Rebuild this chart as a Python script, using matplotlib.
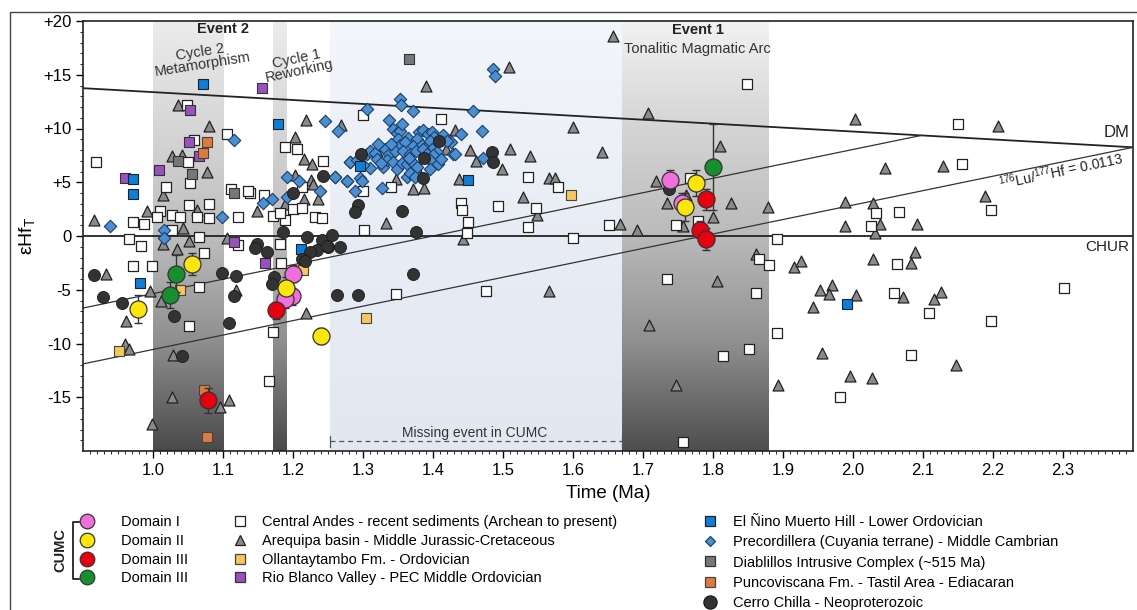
import numpy as np
import matplotlib
matplotlib.use("Agg")
import matplotlib.pyplot as plt
from matplotlib.colors import LinearSegmentedColormap
from matplotlib.lines import Line2D
from matplotlib.patches import Rectangle

plt.rcParams['font.family'] = ['Liberation Sans', 'DejaVu Sans']
plt.rcParams['mathtext.default'] = 'regular'

# ---------------- data ----------------
# CUMC domains (time Ga, eHf, error)
dom1_t = [1.200, 1.199, 1.188, 1.738, 1.755]
dom1_e = [-3.5, -5.6, -5.9, 5.2, 3.1]
dom1_err = [0.8, 0.8, 0.8, 0.9, 0.9]

dom2_t = [0.978, 1.055, 1.190, 1.240, 1.775, 1.760]
dom2_e = [-6.8, -2.6, -4.8, -9.3, 4.9, 2.7]
dom2_err = [1.3, 1.0, 1.0, 0.7, 1.2, 1.3]

dom3r_t = [1.078, 1.176, 1.790, 1.782, 1.790]
dom3r_e = [-15.3, -6.9, 3.4, 0.6, -0.3]
dom3r_err = [1.2, 0.8, 1.0, 0.8, 1.0]

dom3g_t = [1.033, 1.024, 1.800]
dom3g_e = [-3.5, -5.5, 6.4]
dom3g_err = [1.7, 1.2, 4.0]

# Central Andes - recent sediments
ca_t = [0.919, 1.049, 1.059, 1.105, 1.189, 1.205, 1.243, 1.300, 1.050, 1.053, 1.019, 1.112, 1.139, 1.158,
        1.213, 1.051, 1.080, 1.010, 0.972, 0.987, 1.006, 1.027, 1.039, 1.063, 1.080, 1.121, 1.172, 1.189,
        1.182, 1.200, 1.213, 1.232, 1.242, 1.027, 1.066, 0.965, 0.983, 1.122, 1.182, 1.301, 1.073, 0.972,
        0.999, 1.065, 1.183, 1.052, 1.172, 1.165, 1.411, 1.376, 1.340, 1.536, 1.440, 1.441, 1.493, 1.547,
        1.450, 1.449, 1.536, 1.578, 1.651, 1.600, 1.747, 1.767, 1.778, 1.848, 1.347, 1.476, 1.734, 1.814,
        1.757, 1.852, 1.891, 1.866, 1.880, 1.862, 1.891, 2.150, 2.156, 2.066, 2.033, 2.025, 2.197, 2.063,
        2.059, 2.108, 2.083, 1.982, 2.197, 2.302, 1.135, 1.300]
ca_e = [6.9, 12.2, 8.9, 9.5, 8.3, 8.1, 7.0, 11.3, 6.9, 4.9, 4.6, 4.4, 4.0, 3.8,
        4.6, 2.9, 3.0, 2.3, 1.3, 1.1, 1.8, 2.0, 1.8, 1.8, 1.7, 1.8, 1.9, 1.5,
        2.1, 2.5, 2.6, 1.8, 1.7, 0.6, -0.1, -0.3, -0.9, -0.8, -0.7, 0.6, -1.6, -2.8,
        -2.8, -4.7, -2.5, -8.4, -8.9, -13.5, 10.9, 6.4, 4.6, 5.5, 3.1, 2.4, 2.8, 2.6,
        1.3, 0.3, 0.8, 4.6, 1.0, -0.2, 1.0, 5.4, 1.4, 14.1, -5.4, -5.1, -4.0, -11.2,
        -19.2, -10.5, -0.3, -2.1, -2.7, -5.3, -9.0, 10.4, 6.7, 2.2, 2.1, 0.9, 2.4, -2.6,
        -5.3, -7.2, -11.1, -15.0, -7.9, -4.8, 4.2, 4.2]

# Arequipa basin - Middle Jurassic-Cretaceous
ar_t = [1.036, 1.080, 1.219, 1.268, 1.203, 1.027, 1.041, 1.215, 1.227, 1.077, 1.203, 1.225, 1.229, 1.015,
        1.215, 1.189, 1.149, 0.992, 0.915, 1.063, 1.043, 1.015, 1.034, 1.051, 1.106, 1.320, 0.933, 0.996,
        1.012, 1.118, 1.219, 0.962, 0.960, 0.965, 0.998, 1.029, 1.027, 1.096, 1.108, 1.390, 1.431, 1.453,
        1.510, 1.539, 1.461, 1.499, 1.418, 1.347, 1.371, 1.387, 1.437, 1.566, 1.574, 1.528, 1.549, 1.333,
        1.443, 1.657, 1.508, 1.707, 1.600, 1.810, 1.642, 1.667, 1.691, 1.718, 1.734, 1.762, 1.825, 1.800,
        1.878, 1.757, 1.862, 1.915, 1.805, 1.708, 1.566, 1.747, 2.003, 2.207, 2.046, 2.128, 2.189, 1.989,
        2.029, 1.989, 2.038, 2.092, 2.032, 1.925, 2.029, 2.089, 2.083, 1.953, 1.970, 1.966, 2.004, 1.943,
        2.071, 2.116, 2.126, 1.956, 1.995, 2.027, 2.147, 1.893, 1.236]
ar_e = [12.2, 10.2, 10.8, 10.3, 9.2, 7.4, 7.5, 7.2, 6.7, 6.0, 5.7, 5.2, 4.8, 3.8,
        3.4, 3.0, 2.3, 2.3, 1.5, 2.4, 0.7, -0.7, -1.2, -0.5, -0.2, 7.9, -3.5, -5.1,
        -6.0, -5.0, -7.2, -7.9, -10.0, -10.5, -17.5, -11.1, -15.0, -15.9, -15.3, 14.0, 9.9, 8.0,
        8.1, 7.4, 7.0, 6.2, 8.1, 5.3, 4.4, 4.5, 5.3, 5.4, 5.4, 3.6, 2.0, 1.2,
        -0.3, 18.6, 15.7, 11.4, 10.1, 8.4, 7.8, 1.1, 0.6, 5.1, 3.1, 3.8, 3.1, 1.8,
        2.7, 0.9, -1.7, -2.9, -4.2, -8.3, -5.1, -13.9, 10.9, 10.2, 6.3, 6.5, 3.7, 3.2,
        3.1, 0.9, 1.1, 1.1, 0.3, -2.3, -2.1, -1.5, -2.5, -5.0, -4.6, -5.4, -5.5, -6.6,
        -5.7, -5.9, -5.2, -10.9, -13.0, -13.2, -12.0, -13.9, 3.4]

# Precordillera (Cuyania terrane) - Middle Cambrian
pc_t = [0.939, 1.099, 1.115, 1.157, 1.170, 1.192, 1.191, 1.208, 1.239, 1.260, 1.277, 1.289, 1.282, 1.246,
        1.265, 1.305, 1.016, 1.016, 1.296, 1.353, 1.354, 1.372, 1.457, 1.337, 1.343, 1.348, 1.353, 1.380,
        1.386, 1.393, 1.398, 1.414, 1.440, 1.470, 1.350, 1.364, 1.377, 1.401, 1.426, 1.353, 1.360, 1.371,
        1.384, 1.391, 1.396, 1.398, 1.405, 1.420, 1.306, 1.310, 1.317, 1.332, 1.337, 1.346, 1.357, 1.367,
        1.376, 1.386, 1.391, 1.400, 1.429, 1.282, 1.292, 1.310, 1.329, 1.334, 1.343, 1.349, 1.356, 1.363,
        1.370, 1.377, 1.396, 1.407, 1.471, 1.260, 1.277, 1.299, 1.363, 1.367, 1.374, 1.327, 1.486, 1.488,
        1.431, 1.320, 1.325, 1.340, 1.365, 1.412, 1.395, 1.322, 1.300, 1.355]
pc_e = [0.9, 1.8, 8.9, 3.1, 3.4, 3.6, 5.5, 5.1, 4.2, 5.5, 5.1, 4.2, 6.9, 10.7,
        9.8, 11.8, 0.6, -0.2, 5.4, 12.7, 12.2, 11.6, 11.6, 10.8, 10.0, 9.6, 9.8, 9.7,
        9.9, 9.5, 9.7, 9.4, 9.5, 9.8, 9.0, 9.1, 9.0, 9.2, 8.7, 8.5, 8.7, 8.4,
        8.5, 8.4, 8.8, 8.1, 7.8, 8.8, 7.6, 7.9, 7.7, 8.1, 7.6, 7.9, 7.9, 7.6,
        7.9, 8.1, 7.6, 7.5, 7.6, 6.9, 7.1, 6.3, 6.4, 7.1, 6.9, 6.2, 6.8, 6.7,
        6.9, 6.4, 7.1, 6.7, 7.3, 5.5, 5.1, 5.1, 5.5, 5.9, 5.5, 4.5, 15.5, 14.9,
        7.6, 7.2, 6.8, 8.6, 7.3, 7.2, 6.2, 8.6, 6.6, 10.4]

# Cerro Chilla - Neoproterozoic
cc_t = [0.915, 0.928, 0.955, 1.030, 1.042, 1.099, 1.118, 1.115, 1.108, 1.173, 1.170, 1.263, 1.293, 1.185,
        1.149, 1.146, 1.163, 1.220, 1.242, 1.256, 1.267, 1.250, 1.234, 1.224, 1.213, 1.217, 1.200, 1.243,
        1.297, 1.293, 1.288, 1.356, 1.376, 1.371, 1.387, 1.386, 1.408, 1.484, 1.485, 1.249, 1.737]
cc_e = [-3.6, -5.7, -6.2, -7.4, -11.2, -3.4, -3.7, -5.6, -8.1, -3.8, -4.5, -5.5, -5.5, 0.4,
        -0.7, -1.1, -1.5, -0.1, -0.4, 0.1, -1.0, -1.0, -1.3, -1.5, -2.1, -2.3, 4.0, 5.6,
        7.6, 2.9, 2.2, 2.3, 0.4, -3.5, 7.3, 5.4, 8.8, 7.8, 6.9, -0.9, 4.4]

# Ollantaytambo Fm. - Ordovician
ol_t = [0.952, 1.039, 1.214, 1.304, 1.597]
ol_e = [-10.7, -5.0, -3.2, -7.6, 3.8]

# Rio Blanco Valley - PEC Middle Ordovician
rb_t = [1.156, 1.053, 0.960, 1.008, 1.051, 1.066, 1.115, 1.160]
rb_e = [13.8, 11.7, 5.4, 6.1, 8.7, 7.4, -0.6, -2.5]

# El Nino Muerto Hill - Lower Ordovician
en_t = [1.071, 1.179, 0.972, 0.972, 1.296, 0.981, 1.212, 1.450, 1.991]
en_e = [14.1, 10.4, 5.3, 3.9, 6.5, -4.4, -1.2, 5.2, -6.3]

# Diablillos Intrusive Complex
di_t = [1.365, 1.036, 1.056, 1.116]
di_e = [16.5, 7.0, 5.8, 4.0]

# Puncoviscana Fm. - Tastil Area
pu_t = [1.077, 1.072, 1.073, 1.077]
pu_e = [8.7, 7.7, -14.3, -18.7]

# reference lines
dm_t = [0.9, 2.4]
dm_e = [13.75, 8.25]
luhf1_t = [0.9, 2.097]
luhf1_e = [-6.7, 9.35]
luhf2_t = [0.9, 2.4]
luhf2_e = [-11.9, 8.25]

xticks = [1.0, 1.1, 1.2, 1.3, 1.4, 1.5, 1.6, 1.7, 1.8, 1.9, 2.0, 2.1, 2.2, 2.3]
yticks = [-15, -10, -5, 0, 5, 10, 15, 20]
ytick_labels = ['-15', '-10', '-5', '0', '+5', '+10', '+15', '+20']

# ---------------- figure ----------------
W, H = 1137, 610
fig = plt.figure(figsize=(W / 100, H / 100), dpi=100)
ax = fig.add_axes([83 / W, 1 - 451 / H, 1050 / W, 430 / H])

def band(x0, x1, colors):
    cmap = LinearSegmentedColormap.from_list('b', colors)
    grad = np.linspace(0, 1, 256).reshape(-1, 1)
    ax.imshow(grad, extent=(x0, x1, -20, 20), origin='lower', cmap=cmap,
              aspect='auto', zorder=0, interpolation='bilinear')

gray_stops = ['#4a4a4a', '#8e8e8e', '#bdbdbd', '#d6d6d6', '#ececec']
band(1.0, 1.1, gray_stops)
band(1.171, 1.19, gray_stops)
band(1.253, 1.67, ['#e2e8f1', '#e8edf5', '#f3f6fa'])
band(1.67, 1.88, ['#4e4e4e', '#8f8f8f', '#bababa', '#d4d4d4', '#f2f2f2'])

# lines
ax.plot(dm_t, dm_e, color='#222222', lw=1.3, zorder=1)
ax.plot(luhf1_t, luhf1_e, color='#333333', lw=0.9, zorder=1)
ax.plot(luhf2_t, luhf2_e, color='#333333', lw=0.9, zorder=1)
ax.axhline(0, color='#222222', lw=1.3, zorder=1)

ms_sq = 60
ax.scatter(ar_t, ar_e, marker='^', s=62, c='#8a8a8a', edgecolors='#222222', linewidths=0.9, zorder=2)
ax.scatter(ca_t, ca_e, marker='s', s=ms_sq, c='white', edgecolors='#222222', linewidths=0.9, zorder=3)
ax.scatter(pc_t, pc_e, marker='D', s=40, c='#4a8fd3', edgecolors='#1b3f66', linewidths=0.8, zorder=4)
ax.scatter(ol_t, ol_e, marker='s', s=ms_sq, c='#f4c85a', edgecolors='#444444', linewidths=0.8, zorder=4)
ax.scatter(rb_t, rb_e, marker='s', s=ms_sq, c='#9a50bf', edgecolors='#333333', linewidths=0.8, zorder=4)
ax.scatter(en_t, en_e, marker='s', s=ms_sq, c='#0a7fdc', edgecolors='#222222', linewidths=0.8, zorder=4)
ax.scatter(di_t, di_e, marker='s', s=ms_sq, c='#777777', edgecolors='#333333', linewidths=0.8, zorder=4)
ax.scatter(pu_t, pu_e, marker='s', s=ms_sq, c='#df7a3c', edgecolors='#444444', linewidths=0.8, zorder=4)
ax.scatter(cc_t, cc_e, marker='o', s=75, c='#333333', edgecolors='#1a1a1a', linewidths=0.6, zorder=5)

for t, e, er, col in [(dom1_t, dom1_e, dom1_err, '#ef6fdc'), (dom2_t, dom2_e, dom2_err, '#fbe60a'),
                      (dom3r_t, dom3r_e, dom3r_err, '#e8000f'), (dom3g_t, dom3g_e, dom3g_err, '#16902f')]:
    ax.errorbar(t, e, yerr=er, fmt='none', ecolor='#333333', elinewidth=1.0, capsize=3, zorder=6)
    ax.scatter(t, e, marker='o', s=150, c=col, edgecolors='#333333', linewidths=0.9, zorder=7)

# axes formatting
ax.set_xlim(0.9, 2.4)
ax.set_ylim(-20, 20)
ax.set_xticks(xticks)
ax.set_xticklabels([f'{v:.1f}' for v in xticks], fontsize=12)
ax.set_xticks(np.arange(0.91, 2.4, 0.01), minor=True)
ax.set_yticks(yticks)
ax.set_yticklabels(ytick_labels, fontsize=12)
ax.set_yticks(np.arange(-19, 20, 1), minor=True)
ax.tick_params(which='major', direction='out', length=5, width=1)
ax.tick_params(which='minor', direction='out', length=2.5, width=0.6)
for sp in ax.spines.values():
    sp.set_linewidth(1.2)
    sp.set_color('#222222')
ax.set_xlabel('Time (Ma)', fontsize=13.5, labelpad=5)
ax.set_ylabel('εHf$_{T}$', fontsize=14, labelpad=4)

# annotations
ax.text(1.1, 19.3, 'Event 2', ha='center', va='center', fontsize=10.5, fontweight='bold', color='#222222')
ax.text(1.069, 16.5, 'Cycle 2\nMetamorphism', ha='center', va='center', fontsize=10.5, rotation=9,
        linespacing=0.85, color='#333333')
ax.text(1.207, 15.9, 'Cycle 1\nReworking', ha='center', va='center', fontsize=10.5, rotation=12,
        linespacing=0.85, color='#333333')
ax.text(1.778, 19.2, 'Event 1', ha='center', va='center', fontsize=10.5, fontweight='bold', color='#222222')
ax.text(1.777, 17.4, 'Tonalitic Magmatic Arc', ha='center', va='center', fontsize=10.5, color='#333333')
ax.text(2.395, 8.9, 'DM', ha='right', va='bottom', fontsize=12, color='#222222')
ax.text(2.395, -0.4, 'CHUR', ha='right', va='top', fontsize=11, color='#222222')
ax.text(2.297, 6.1, '$^{176}$Lu/$^{177}$Hf = 0.0113', ha='center', va='center', fontsize=10,
        rotation=12, color='#222222')
ax.text(1.46, -18.3, 'Missing event in CUMC', ha='center', va='center', fontsize=10, color='#333333')
ax.plot([1.253, 1.67], [-19.1, -19.1], color='#555555', lw=0.9, ls=(0, (4, 3)), zorder=1)
ax.plot([1.253, 1.253], [-19.6, -18.6], color='#555555', lw=0.9, zorder=1)
ax.plot([1.67, 1.67], [-19.6, -18.6], color='#555555', lw=0.9, zorder=1)

# legends
def h(marker, fc, ec, ms):
    return Line2D([], [], marker=marker, ls='', mfc=fc, mec=ec, ms=ms, mew=0.9)

leg_fs = 10.5
l1 = fig.legend([h('o', '#ef6fdc', '#333', 10.5), h('o', '#fbe60a', '#333', 10.5),
                 h('o', '#e8000f', '#333', 10.5), h('o', '#16902f', '#333', 10.5)],
                ['Domain I', 'Domain II', 'Domain III', 'Domain III'],
                loc='upper left', bbox_to_anchor=(80 / W, 1 - 515 / H), frameon=False, fontsize=leg_fs,
                labelspacing=0.33, handlelength=1.0, handletextpad=1.8, borderpad=0, borderaxespad=0)
l2 = fig.legend([h('s', 'white', '#222', 6.5), h('^', '#8a8a8a', '#222', 7),
                 h('s', '#f4c85a', '#444', 6.5), h('s', '#9a50bf', '#333', 6.5)],
                ['Central Andes - recent sediments (Archean to present)', 'Arequipa basin - Middle Jurassic-Cretaceous',
                 'Ollantaytambo Fm. - Ordovician', 'Rio Blanco Valley - PEC Middle Ordovician'],
                loc='upper left', bbox_to_anchor=(233 / W, 1 - 515 / H), frameon=False, fontsize=leg_fs,
                labelspacing=0.33, handlelength=1.0, handletextpad=1.0, borderpad=0, borderaxespad=0)
l3 = fig.legend([h('s', '#0a7fdc', '#222', 6.5), h('D', '#4a8fd3', '#1b3f66', 5.5),
                 h('s', '#777777', '#333', 6.5), h('s', '#df7a3c', '#444', 6.5), h('o', '#333333', '#1a1a1a', 9.5)],
                ['El Ñino Muerto Hill - Lower Ordovician', 'Precordillera (Cuyania terrane) - Middle Cambrian',
                 'Diablillos Intrusive Complex (~515 Ma)', 'Puncoviscana Fm. - Tastil Area - Ediacaran',
                 'Cerro Chilla - Neoproterozoic'],
                loc='upper left', bbox_to_anchor=(703 / W, 1 - 515 / H), frameon=False, fontsize=leg_fs,
                labelspacing=0.43, handlelength=1.0, handletextpad=1.05, borderpad=0, borderaxespad=0)

# CUMC bracket
fig.add_artist(Line2D([79 / W, 73 / W, 73 / W, 79 / W],
                      [1 - 522 / H, 1 - 522 / H, 1 - 579 / H, 1 - 579 / H],
                      color='#222222', lw=1.3))
fig.text(60 / W, 1 - 550 / H, 'CUMC', rotation=90, ha='center', va='center', fontsize=10.5,
         fontweight='bold', color='#222222')

# outer frame
fig.add_artist(Rectangle((10 / W, -0.05), 1.2, 1 - 12 / H + 0.05, transform=fig.transFigure,
                         fill=False, ec='#444444', lw=1.0))

fig.savefig('out.png', dpi=100)
